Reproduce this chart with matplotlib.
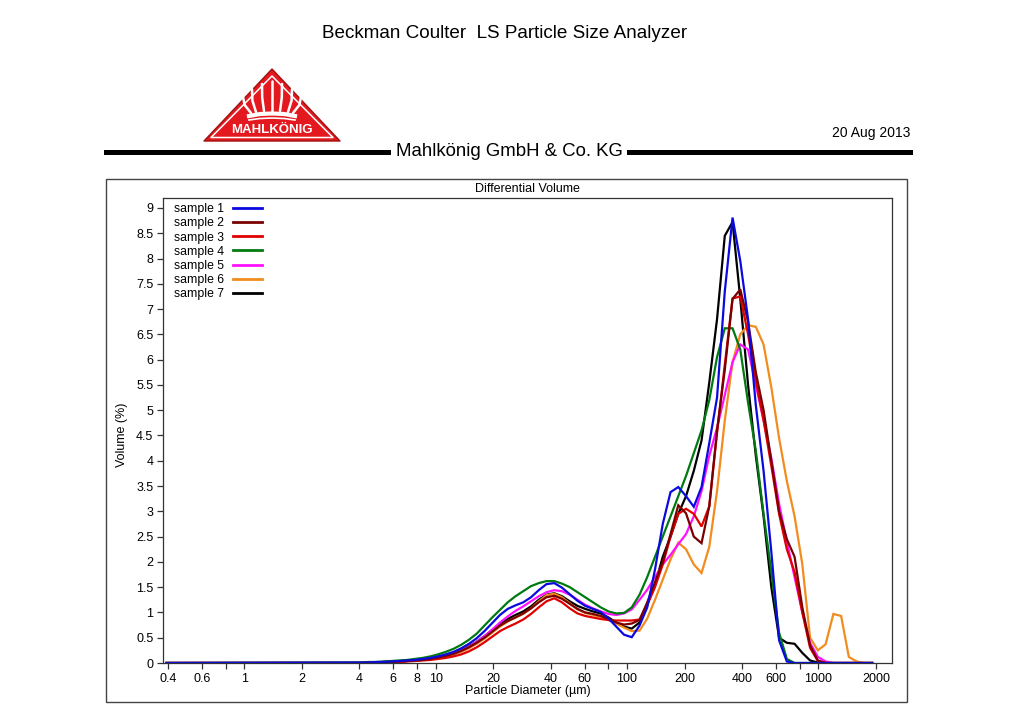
import matplotlib
matplotlib.use("Agg")
import matplotlib.pyplot as plt
from matplotlib import font_manager
from matplotlib.lines import Line2D
from matplotlib.patches import Polygon, Rectangle
from matplotlib.ticker import FuncFormatter, NullLocator, FixedLocator

names = {f.name for f in font_manager.fontManager.ttflist}
FONT = "Liberation Sans Narrow" if "Liberation Sans Narrow" in names else "Liberation Sans"
plt.rcParams["font.family"] = [FONT, "DejaVu Sans"]

# channel centres (um)
diameters = [0.393,
             4.048, 4.444, 4.878, 5.355, 5.879, 6.453, 7.084, 7.777, 8.537, 9.371,
             10.29, 11.29, 12.40, 13.61, 14.94, 16.40, 18.00, 19.76, 21.70, 23.81,
             26.14, 28.70, 31.51, 34.59, 37.97, 41.68, 45.75, 50.23, 55.13, 60.52,
             66.44, 72.94, 80.07, 87.90, 96.49, 105.9, 116.3, 127.6, 140.1, 153.8,
             168.9, 185.4, 203.5, 223.4, 245.2, 269.2, 295.5, 324.4, 356.1, 390.9,
             429.2, 471.1, 517.2, 567.8, 623.3, 684.2, 751.1, 824.5, 905.1, 993.6,
             1091, 1198, 1315, 1443, 1584, 1739, 1909]

sample_1 = [0,
            0.01, 0.01, 0.02, 0.02, 0.03, 0.04, 0.05, 0.06, 0.08, 0.10,
            0.13, 0.17, 0.22, 0.29, 0.38, 0.49, 0.63, 0.79, 0.95, 1.07,
            1.14, 1.20, 1.30, 1.44, 1.56, 1.58, 1.49, 1.36, 1.23, 1.13,
            1.07, 1.01, 0.88, 0.72, 0.56, 0.51, 0.74, 1.10, 1.85, 2.75,
            3.38, 3.48, 3.30, 3.09, 3.48, 4.35, 5.25, 7.35, 8.81, 7.95,
            6.80, 5.10, 3.80, 2.20, 0.45, 0.03, 0, 0, 0, 0,
            0, 0, 0, 0, 0, 0, 0]
sample_2 = [0,
            0.0, 0.01, 0.01, 0.02, 0.02, 0.03, 0.04, 0.05, 0.06, 0.08,
            0.11, 0.14, 0.18, 0.24, 0.31, 0.40, 0.50, 0.62, 0.74, 0.83,
            0.90, 0.98, 1.08, 1.20, 1.30, 1.33, 1.27, 1.17, 1.07, 1.00,
            0.97, 0.93, 0.87, 0.80, 0.76, 0.78, 0.85, 1.20, 1.60, 2.00,
            2.55, 3.12, 2.96, 2.50, 2.37, 3.10, 4.60, 5.80, 7.20, 7.39,
            6.75, 5.75, 5.00, 4.00, 3.00, 2.45, 2.10, 1.10, 0.35, 0.05,
            0, 0, 0, 0, 0, 0, 0]
sample_3 = [0,
            0.0, 0.0, 0.01, 0.01, 0.01, 0.02, 0.03, 0.04, 0.05, 0.06,
            0.08, 0.10, 0.13, 0.17, 0.23, 0.31, 0.41, 0.52, 0.63, 0.71,
            0.78, 0.86, 0.97, 1.10, 1.22, 1.28, 1.20, 1.08, 0.98, 0.93,
            0.90, 0.87, 0.85, 0.84, 0.84, 0.84, 0.86, 1.15, 1.50, 1.95,
            2.50, 2.95, 3.05, 2.95, 2.70, 3.10, 4.55, 5.90, 7.21, 7.25,
            6.50, 5.60, 4.80, 3.90, 2.95, 2.25, 1.80, 1.00, 0.30, 0.04,
            0, 0, 0, 0, 0, 0, 0]
sample_4 = [0,
            0.01, 0.02, 0.02, 0.03, 0.04, 0.05, 0.06, 0.08, 0.10, 0.13,
            0.17, 0.22, 0.28, 0.36, 0.46, 0.58, 0.74, 0.90, 1.05, 1.20,
            1.32, 1.42, 1.52, 1.58, 1.62, 1.62, 1.57, 1.50, 1.40, 1.30,
            1.20, 1.10, 1.02, 0.98, 0.99, 1.10, 1.35, 1.70, 2.10, 2.50,
            2.90, 3.30, 3.70, 4.15, 4.60, 5.20, 6.05, 6.62, 6.62, 6.20,
            5.15, 4.20, 2.95, 1.80, 0.60, 0.08, 0, 0, 0, 0,
            0, 0, 0, 0, 0, 0, 0]
sample_5 = [0,
            0.0, 0.01, 0.01, 0.02, 0.02, 0.03, 0.04, 0.05, 0.07, 0.09,
            0.11, 0.14, 0.19, 0.25, 0.32, 0.42, 0.53, 0.66, 0.80, 0.92,
            1.03, 1.12, 1.22, 1.32, 1.40, 1.44, 1.42, 1.35, 1.25, 1.15,
            1.08, 1.02, 0.97, 0.95, 0.98, 1.06, 1.25, 1.45, 1.70, 1.95,
            2.14, 2.35, 2.55, 2.90, 3.40, 4.10, 4.65, 5.30, 5.95, 6.30,
            6.20, 5.50, 4.80, 4.05, 3.15, 2.40, 1.70, 1.00, 0.40, 0.12,
            0.03, 0, 0, 0, 0, 0, 0]
sample_6 = [0,
            0.0, 0.01, 0.01, 0.02, 0.02, 0.03, 0.04, 0.05, 0.06, 0.08,
            0.10, 0.13, 0.17, 0.22, 0.29, 0.38, 0.48, 0.60, 0.72, 0.82,
            0.90, 0.97, 1.08, 1.22, 1.34, 1.37, 1.30, 1.18, 1.06, 0.99,
            0.95, 0.91, 0.85, 0.78, 0.70, 0.63, 0.64, 0.88, 1.25, 1.65,
            2.05, 2.38, 2.25, 1.95, 1.78, 2.30, 3.40, 4.80, 5.95, 6.50,
            6.68, 6.65, 6.30, 5.45, 4.45, 3.60, 2.90, 1.95, 0.50, 0.25,
            0.37, 0.97, 0.93, 0.12, 0.03, 0, 0]
sample_7 = [0,
            0.0, 0.01, 0.01, 0.02, 0.02, 0.03, 0.04, 0.05, 0.07, 0.09,
            0.12, 0.15, 0.20, 0.25, 0.33, 0.42, 0.53, 0.65, 0.78, 0.87,
            0.95, 1.02, 1.12, 1.25, 1.35, 1.38, 1.32, 1.22, 1.13, 1.07,
            1.02, 0.98, 0.90, 0.80, 0.72, 0.68, 0.80, 1.15, 1.55, 2.10,
            2.50, 2.95, 3.30, 3.80, 4.40, 5.55, 6.80, 8.45, 8.72, 7.20,
            5.50, 4.10, 2.90, 1.50, 0.50, 0.40, 0.38, 0.20, 0.05, 0.01,
            0, 0, 0, 0, 0, 0, 0]

labels = ["sample 1", "sample 2", "sample 3", "sample 4", "sample 5", "sample 6", "sample 7"]
series = [sample_1, sample_2, sample_3, sample_4, sample_5, sample_6, sample_7]
colors = ["#0a0ae0", "#7a0000", "#e00000", "#007a10", "#ff10ff", "#f28c1e", "#000000"]

x_ticks = [0.4, 0.6, 0.8, 1, 2, 4, 6, 8, 10, 20, 40, 60, 80, 100, 200, 400, 600, 800, 1000, 2000]
x_labels = ["0.4", "0.6", "", "1", "2", "4", "6", "8", "10", "20", "40", "60", "", "100",
            "200", "400", "600", "", "1000", "2000"]

fig = plt.figure(figsize=(10.24, 7.23), dpi=100)

# page header
fig.text(0.493, 0.953, "Beckman Coulter  LS Particle Size Analyzer", ha="center", va="center", fontsize=13.6)
fig.text(0.889, 0.816, "20 Aug 2013", ha="right", va="center", fontsize=10)
fig.text(0.4976, 0.790, "Mahlkönig GmbH & Co. KG", ha="center", va="center", fontsize=13.4)
fig.add_artist(Line2D([0.1035, 0.379], [0.790, 0.790], transform=fig.transFigure, color="black", lw=3.6))
fig.add_artist(Line2D([0.614, 0.889], [0.790, 0.790], transform=fig.transFigure, color="black", lw=3.6))

# logo
lg = fig.add_axes([198 / 1024, 1 - 146 / 723, 148 / 1024, 82 / 723])
lg.set_xlim(198, 346)
lg.set_ylim(146, 64)
lg.axis("off")
lg.add_patch(Polygon([(272, 69), (204, 141), (340, 141)], closed=True, facecolor="#e3191f",
                     edgecolor="#a01010", lw=1, joinstyle="round"))
lg.add_patch(Polygon([(272, 76), (211, 137.5), (333, 137.5)], closed=True, fill=False,
                     edgecolor="white", lw=1.1, joinstyle="round"))
tips = [(243, 97), (252, 89), (262, 84), (272, 81), (282, 84), (292, 89), (301, 97)]
bases = [(251, 113), (256, 112), (264, 111), (272, 111), (280, 111), (288, 112), (293, 113)]
for (bx, by), (tx, ty) in zip(bases, tips):
    lg.plot([bx, (bx + tx) / 2 + (tx - 272) * 0.08, tx], [by, (by + ty) / 2, ty], color="white", lw=1.8,
            solid_capstyle="round")
lg.plot([249, 260, 272, 284, 295], [116, 114, 113.5, 114, 116], color="white", lw=3)
lg.plot([249, 260, 272, 284, 295], [120, 118.5, 118, 118.5, 120], color="white", lw=1.2)
lg.text(272, 130, "MAHLKÖNIG", color="white", ha="center", va="center", fontsize=9.5,
        fontweight="bold", family=["Liberation Sans", "DejaVu Sans"])

# outer frame
fig.add_artist(Rectangle((106 / 1024, 1 - 702 / 723), (907 - 106) / 1024, (702 - 179) / 723,
                         transform=fig.transFigure, fill=False, edgecolor="#444444", lw=1.0))

ax = fig.add_axes([163 / 1024, 1 - 663 / 723, (892 - 163) / 1024, (663 - 198) / 723])

for i in reversed(range(len(series))):
    ax.plot(diameters, series[i], color=colors[i], lw=1.6, label=labels[i], solid_joinstyle="miter")

ax.set_xscale("log")
ax.set_xlim(0.3765, 2425)
ax.set_ylim(0, 9.197)
ax.xaxis.set_major_locator(FixedLocator(x_ticks))
ax.set_xticklabels(x_labels)
ax.xaxis.set_minor_locator(NullLocator())
ax.set_yticks([i * 0.5 for i in range(19)])
ax.yaxis.set_major_formatter(FuncFormatter(lambda v, p: "%g" % v))

for s in ax.spines.values():
    s.set_color("#333333")
    s.set_linewidth(0.9)
ax.tick_params(direction="out", length=4.5, width=0.9, color="#333333", labelsize=9, pad=2.5)

ax.set_title("Differential Volume", fontsize=9, pad=4)
ax.set_xlabel("Particle Diameter (µm)", fontsize=9)
ax.set_ylabel("Volume (%)", fontsize=9)
ax.xaxis.set_label_coords(0.5, -0.047)
ax.yaxis.set_label_coords(-0.048, 0.49)

handles, labs = ax.get_legend_handles_labels()
leg = ax.legend(handles[::-1], labs[::-1], loc="upper left", bbox_to_anchor=(0.015, 0.989),
                frameon=False, markerfirst=False, fontsize=8.8, labelspacing=0.18,
                handlelength=2.35, handletextpad=0.75, borderpad=0, borderaxespad=0)
for h in leg.get_lines():
    h.set_linewidth(2)

fig.savefig("out.png", dpi=100)
